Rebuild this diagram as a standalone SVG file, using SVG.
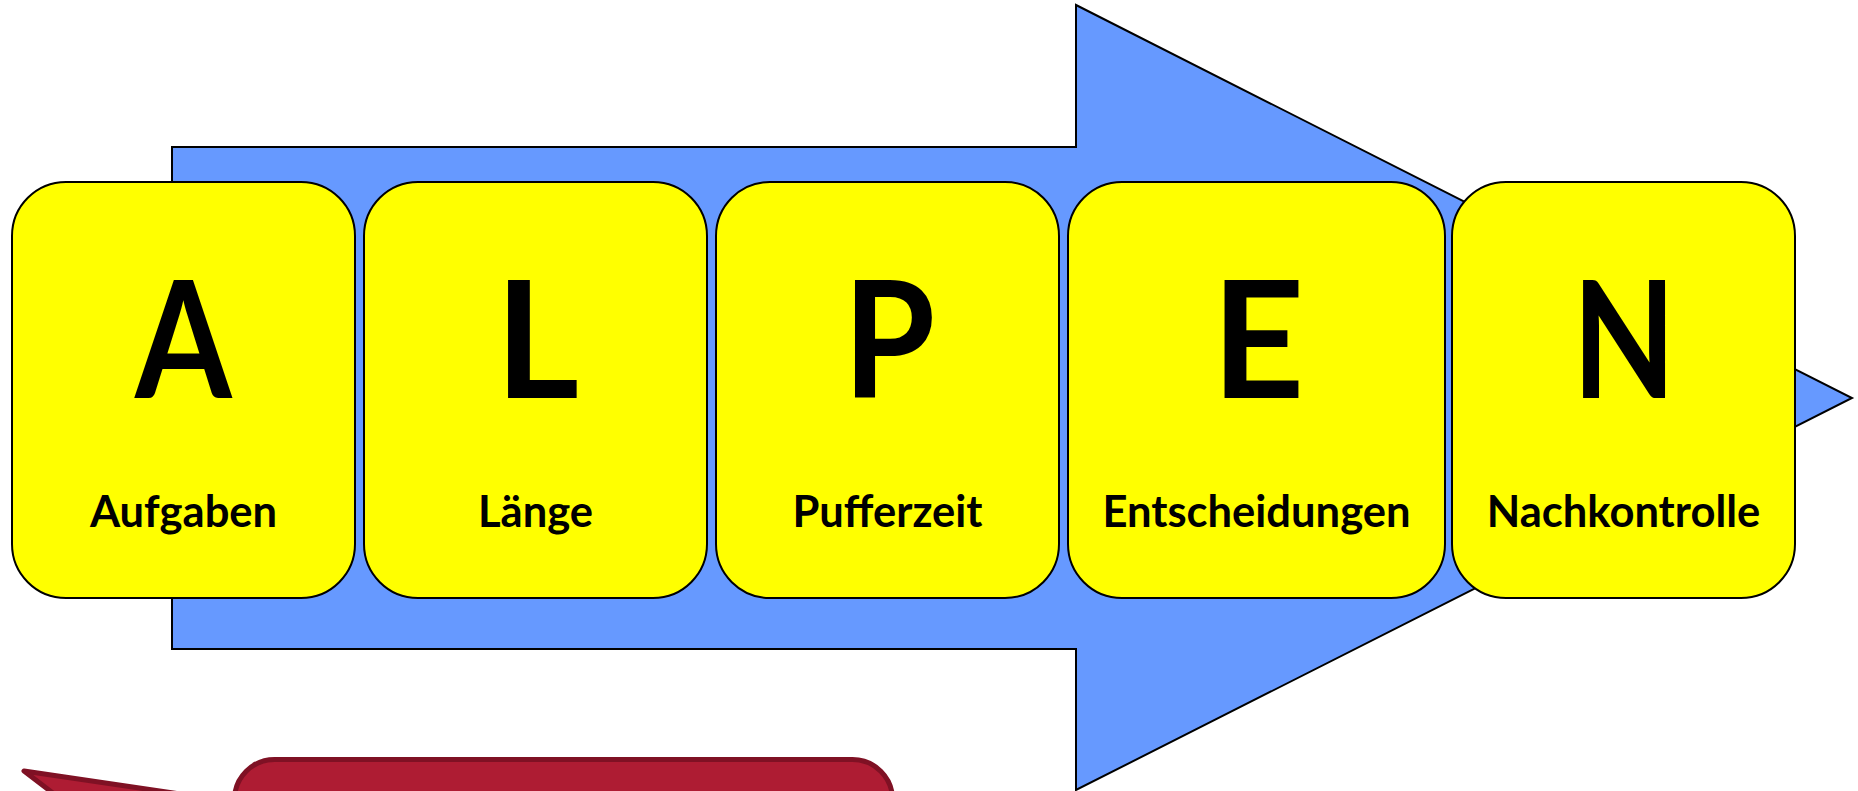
<svg xmlns="http://www.w3.org/2000/svg" width="1858" height="791" viewBox="0 0 1858 791">
  <style>
    .card { fill: #FFFF00; stroke: #000000; stroke-width: 2; }
    .big { font-family: Lato, "Liberation Sans", sans-serif; font-weight: 700; font-size: 162px; fill: #000000; text-anchor: middle; }
    .lbl { font-family: Lato, "Liberation Sans", sans-serif; font-weight: 700; font-size: 43.5px; fill: #000000; text-anchor: middle; }
  </style>

  <!-- Background process arrow -->
  <g id="process-arrow">
    <polygon points="172,147 1076,147 1076,5 1852,398 1076,790 1076,649 172,649" fill="#6699FF" stroke="#000000" stroke-width="2" stroke-linejoin="miter"/>
  </g>

  <!-- ALPEN step cards -->
  <g id="step-a">
    <rect class="card" x="12" y="182" width="343" height="416" rx="54" ry="54"/>
    <text class="big" x="0" y="398" transform="translate(183.5 0) scale(0.86 1)">A</text>
    <text class="lbl" x="183.5" y="527">Aufgaben</text>
  </g>
  <g id="step-l">
    <rect class="card" x="364" y="182" width="343" height="416" rx="54" ry="54"/>
    <text class="big" x="537" y="398">L</text>
    <text class="lbl" x="535.5" y="527">Länge</text>
  </g>
  <g id="step-p">
    <rect class="card" x="716" y="182" width="343" height="416" rx="54" ry="54"/>
    <text class="big" x="0" y="398" transform="translate(889 0) scale(0.92 1)">P</text>
    <text class="lbl" x="887.5" y="527">Pufferzeit</text>
  </g>
  <g id="step-e">
    <rect class="card" x="1068" y="182" width="377" height="416" rx="54" ry="54"/>
    <text class="big" x="1258" y="398">E</text>
    <text class="lbl" x="1256.5" y="527">Entscheidungen</text>
  </g>
  <g id="step-n">
    <rect class="card" x="1452" y="182" width="343" height="416" rx="54" ry="54"/>
    <text class="big" x="0" y="398" transform="translate(1624 0) scale(0.83 1)">N</text>
    <text class="lbl" x="1623.5" y="527">Nachkontrolle</text>
  </g>

  <!-- Red callout at the lower edge -->
  <g id="callout">
    <path d="M 234.5 932 L 24 771 L 234.5 802 L 234.5 799.5 A 40 40 0 0 1 274.5 759.5 L 852.5 759.5 A 40 40 0 0 1 892.5 799.5 L 892.5 960 L 234.5 960 Z" fill="#AE1C33" stroke="#7F1124" stroke-width="5" stroke-linejoin="round"/>
  </g>

  <g id="connectors"></g>
</svg>
